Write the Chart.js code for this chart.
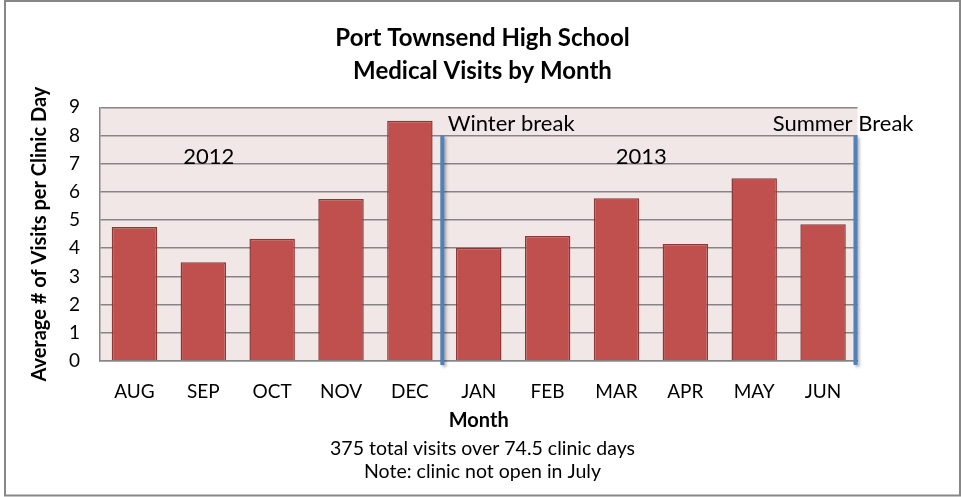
<!DOCTYPE html>
<html>
<head>
<meta charset="utf-8">
<title>Port Townsend High School Medical Visits by Month</title>
<script src="https://cdn.jsdelivr.net/npm/chart.js@4.4.1/dist/chart.umd.min.js"></script>
<style>
  html, body { margin: 0; padding: 0; background: #ffffff; }
  canvas { display: block; }
</style>
</head>
<body>
<canvas id="visitsChart" width="961" height="497"></canvas>
<script>
const months = ["AUG", "SEP", "OCT", "NOV", "DEC", "JAN", "FEB", "MAR", "APR", "MAY", "JUN"];
const visitsPerDay = [4.75, 3.5, 4.34, 5.75, 8.52, 4.01, 4.43, 5.77, 4.15, 6.48, 4.85];
const yTicks = [0, 1, 2, 3, 4, 5, 6, 7, 8, 9];

// break lines sit between categories (DEC|JAN and after JUN), from 0 up to 8
const breakPositions = [4.5, 10.5];
const breakTop = 8;

// text notes placed in category / value units
const noteTexts = ["Winter break", "Summer Break", "2012", "2013"];
const noteX = [4.55, 9.27, 1.08, 7.36];
const noteY = [8.4, 8.4, 7.25, 7.25];
const noteAlign = ["left", "left", "center", "center"];

const fontFamily = "Lato, 'Open Sans', sans-serif";
Chart.defaults.font.family = fontFamily;
Chart.defaults.color = "#000000";

const decorations = {
  id: "decorations",
  beforeDraw: function (chart) {
    const ctx = chart.ctx;
    const area = chart.chartArea;
    ctx.save();
    ctx.fillStyle = "#ffffff";
    ctx.fillRect(0, 0, chart.width, chart.height);
    ctx.strokeStyle = "#878787";
    ctx.lineWidth = 2;
    ctx.strokeRect(5, 1, 955, 494.5);
    ctx.fillStyle = "#f2e7e7";
    ctx.fillRect(area.left, area.top, area.right - area.left, area.bottom - area.top);
    ctx.restore();
  },
  afterDatasetsDraw: function (chart) {
    const ctx = chart.ctx;
    const x = chart.scales.x;
    const y = chart.scales.y;
    ctx.save();
    ctx.strokeStyle = "#4f81bd";
    ctx.lineWidth = 4;
    ctx.shadowColor = "rgba(0, 0, 0, 0.3)";
    ctx.shadowBlur = 3;
    ctx.shadowOffsetX = 2;
    ctx.shadowOffsetY = 2;
    breakPositions.forEach(function (pos) {
      const px = x.getPixelForValue(pos) - 2;
      ctx.beginPath();
      ctx.moveTo(px, y.getPixelForValue(breakTop));
      ctx.lineTo(px, y.getPixelForValue(0) + 4);
      ctx.stroke();
    });
    ctx.restore();
  },
  afterDraw: function (chart) {
    const ctx = chart.ctx;
    const x = chart.scales.x;
    const y = chart.scales.y;
    ctx.save();
    ctx.fillStyle = "#000000";
    ctx.font = "22px " + fontFamily;
    ctx.textBaseline = "middle";
    for (let i = 0; i < noteTexts.length; i++) {
      ctx.textAlign = noteAlign[i];
      ctx.fillText(noteTexts[i], x.getPixelForValue(noteX[i]), y.getPixelForValue(noteY[i]));
    }
    ctx.restore();
  }
};

const ctx = document.getElementById("visitsChart").getContext("2d");
const visitsChart = new Chart(ctx, {
  type: "bar",
  data: {
    labels: months,
    datasets: [
      {
        label: "Average # of Visits per Clinic Day",
        data: visitsPerDay,
        backgroundColor: "#c0504d",
        borderColor: "#8c3836",
        borderWidth: 1.5,
        barPercentage: 0.66,
        categoryPercentage: 1.0
      }
    ]
  },
  options: {
    responsive: false,
    animation: false,
    devicePixelRatio: 1,
    layout: {
      padding: { left: 4, right: 0, top: 0, bottom: 0 }
    },
    plugins: {
      legend: { display: false },
      tooltip: { enabled: false },
      title: {
        display: true,
        text: ["Port Townsend High School", "Medical Visits by Month"],
        font: { size: 24, weight: "bold", lineHeight: "33px" },
        color: "#000000",
        padding: { top: 22, bottom: 19.3 }
      },
      subtitle: {
        display: true,
        position: "bottom",
        text: ["375 total visits over 74.5 clinic days", "Note: clinic not open in July"],
        font: { size: 19.5, lineHeight: "23px" },
        color: "#000000",
        padding: { top: 4, bottom: 14 }
      }
    },
    scales: {
      x: {
        grid: { display: false, drawTicks: false },
        border: { display: true, color: "#878787", width: 1.5 },
        ticks: { font: { size: 19 }, padding: 19, color: "#000000" },
        title: {
          display: true,
          text: "Month",
          font: { size: 20, weight: "bold" },
          padding: { top: 4, bottom: 0 },
          color: "#000000"
        },
        afterFit: function (scale) {
          scale.height = 72;
        }
      },
      y: {
        min: 0,
        max: 9,
        afterBuildTicks: function (scale) {
          scale.ticks = yTicks.map(function (v) { return { value: v }; });
        },
        grid: { color: "#858585", lineWidth: 1.5, drawTicks: false },
        border: { display: true, color: "#878787", width: 1.5 },
        ticks: { font: { size: 19 }, padding: 20, color: "#000000" },
        title: {
          display: true,
          text: "Average # of Visits per Clinic Day",
          font: { size: 20, weight: "bold" },
          padding: { top: 24, bottom: 0 },
          color: "#000000"
        },
        afterFit: function (scale) {
          scale.width = 96;
        }
      },
      // empty right-hand box, keeps the plot narrow while titles stay centred on the page
      spacer: {
        type: "linear",
        position: "right",
        grid: { display: false, drawTicks: false },
        border: { display: false },
        ticks: { display: false },
        afterFit: function (scale) {
          scale.width = 103.5;
        }
      }
    }
  },
  plugins: [decorations]
});
</script>
</body>
</html>
